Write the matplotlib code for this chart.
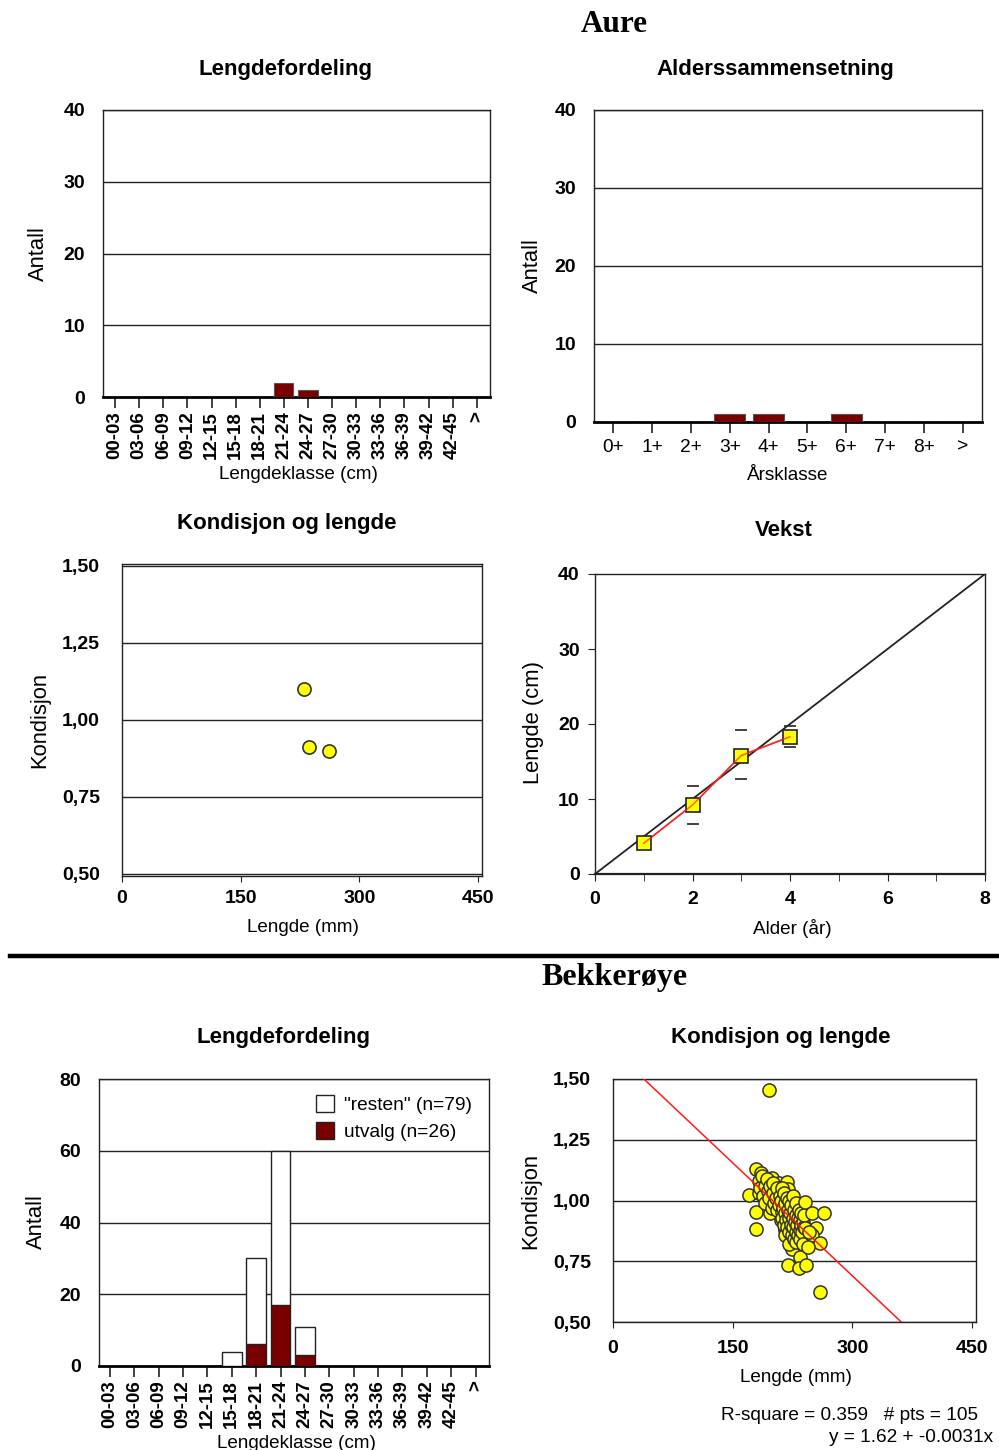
import matplotlib
matplotlib.use("Agg")
import matplotlib.pyplot as plt
from matplotlib.patches import Patch
from matplotlib.lines import Line2D

plt.rcParams['font.family'] = ['Liberation Sans', 'DejaVu Sans']

# ---------------- data ----------------
length_classes = ['00-03', '03-06', '06-09', '09-12', '12-15', '15-18', '18-21',
                  '21-24', '24-27', '27-30', '30-33', '33-36', '36-39', '39-42',
                  '42-45', '>']
age_classes = ['0+', '1+', '2+', '3+', '4+', '5+', '6+', '7+', '8+', '>']

# Aure
aure_len_counts = [0, 0, 0, 0, 0, 0, 0, 2, 1, 0, 0, 0, 0, 0, 0, 0]
aure_age_counts = [0, 0, 0, 1, 1, 0, 1, 0, 0, 0]
aure_length_mm = [230, 236, 261]
aure_kond = [1.10, 0.913, 0.90]
vekst_age = [1, 2, 3, 4]
vekst_mean = [4.1, 9.2, 15.8, 18.3]
vekst_upper = [4.9, 11.8, 19.2, 19.7]
vekst_lower = [3.3, 6.7, 12.7, 17.0]
ref_growth_cm_per_year = 5.0

# Bekkerøye
bk_utvalg = [0, 0, 0, 0, 0, 0, 6, 17, 3, 0, 0, 0, 0, 0, 0, 0]
bk_resten = [0, 0, 0, 0, 0, 4, 24, 43, 8, 0, 0, 0, 0, 0, 0, 0]
bk_len = [170, 179, 179, 179,
          186, 199, 187, 195, 208, 183, 191, 206, 197, 210, 195,
          183, 184, 187, 188, 190, 191, 193, 194, 196, 197, 199, 200, 201,
          202, 204, 205, 206, 208, 209,
          218, 219, 214, 228, 224, 212, 230, 216, 228, 220, 235, 224, 235,
          219, 233,
          211, 212, 212, 213, 214, 214, 215, 216, 216, 217, 218, 218, 219,
          220, 220, 221, 221, 222, 223, 223, 224, 225, 225, 226, 227, 227,
          228, 229, 229, 230, 230, 231, 232, 232, 233, 234, 234, 235, 236,
          236, 237, 238, 238, 239, 239,
          241, 249, 264, 241, 255, 249, 259, 245, 242, 259, 246]
bk_kond = [1.023, 1.128, 0.954, 0.883,
           1.112, 1.091, 1.071, 1.071, 1.071, 1.030, 1.023, 1.036, 0.947, 0.920, 1.455,
           1.08, 1.05, 1.10, 1.02, 1.06, 0.99, 1.09, 1.04, 1.01, 1.06, 0.97, 1.03, 1.07,
           0.99, 1.01, 0.96, 1.05, 0.98, 1.02,
           1.077, 1.046, 1.016, 0.988, 0.961, 0.954, 0.947, 0.879, 0.879, 0.844, 0.851,
           0.799, 0.769, 0.735, 0.721,
           1.00, 0.93, 1.05, 0.97, 0.90, 1.03, 0.95, 0.99, 0.86, 0.92, 1.01, 0.89, 0.96,
           0.93, 0.87, 1.00, 0.82, 0.95, 0.90, 0.98, 0.86, 0.93, 1.02, 0.89, 0.96, 0.84,
           0.91, 0.94, 0.87, 0.99, 0.83, 0.90, 0.93, 0.86, 0.96, 0.88, 0.92, 0.84, 0.90,
           0.95, 0.87, 0.91, 0.82, 0.89, 0.94,
           0.995, 0.947, 0.950, 0.886, 0.886, 0.858, 0.824, 0.810, 0.735, 0.625, 0.87]
reg_intercept = 1.62
reg_slope = -0.0031
r_square = 0.359

# ---------------- figure helpers ----------------
W, H = 999, 1450
fig = plt.figure(figsize=(W / 100, H / 100), dpi=100)

BAR = '#7a0000'
LINE = '#222222'
PT = '#ffff00'

TITLE_FS = 16
XLABEL_FS = 13.6
YLABEL_FS = 15.8
TICK_FS = 14
CLASS_FS = 13.5


def rect(x0, y0, x1, y1):
    return [x0 / W, 1 - y1 / H, (x1 - x0) / W, (y1 - y0) / H]


def ftext(x, y, s, **kw):
    kw.setdefault('ha', 'center')
    kw.setdefault('va', 'center')
    fig.text(x / W, 1 - y / H, s, **kw)


def style_frame(ax):
    for s in ax.spines.values():
        s.set_color(LINE)
        s.set_linewidth(1.0)


def bold_ticks(ax, axis='both'):
    labels = []
    if axis in ('x', 'both'):
        labels += ax.get_xticklabels()
    if axis in ('y', 'both'):
        labels += ax.get_yticklabels()
    for t in labels:
        t.set_fontweight('bold')


def hist_axes(r, xlim, ymax, ystep):
    ax = fig.add_axes(r)
    style_frame(ax)
    ax.spines['bottom'].set_linewidth(2.0)
    ax.spines['bottom'].set_color('black')
    ax.set_xlim(*xlim)
    ax.set_ylim(0, ymax)
    ax.set_yticks(range(0, ymax + 1, ystep))
    ax.grid(axis='y', color=LINE, lw=1.0)
    ax.set_axisbelow(True)
    ax.tick_params(axis='y', length=0, pad=13, labelsize=TICK_FS)
    ax.tick_params(axis='x', length=8, width=1.2, color=LINE, direction='out')
    return ax


# ---------------- section titles ----------------
ftext(614, 24, 'Aure', family=['Liberation Serif', 'DejaVu Serif'],
      fontsize=22.5, fontweight='bold')
ftext(614, 977, 'Bekkerøye', family=['Liberation Serif', 'DejaVu Serif'],
      fontsize=23, fontweight='bold')
fig.add_artist(Line2D([10 / W, 1.0], [1 - 956 / H, 1 - 956 / H], color='black', lw=3.2))

# ---------------- Aure: Lengdefordeling ----------------
ax1 = hist_axes(rect(103, 110, 490, 397), (-0.5, 15.55), 40, 10)
x16 = list(range(len(length_classes)))
ax1.bar(x16, aure_len_counts, width=0.8, color=BAR, edgecolor='#555555', lw=0.8, zorder=3)
ax1.set_xticks(x16)
ax1.set_xticklabels(length_classes, rotation=90, fontsize=CLASS_FS)
ax1.tick_params(axis='x', pad=2)
bold_ticks(ax1)
ftext(285, 69, 'Lengdefordeling', fontsize=TITLE_FS, fontweight='bold')
ftext(298, 474, 'Lengdeklasse (cm)', fontsize=XLABEL_FS)
ftext(38, 254, 'Antall', fontsize=YLABEL_FS, rotation=90)

# ---------------- Aure: Alderssammensetning ----------------
ax2 = hist_axes(rect(594, 110, 982, 422), (-0.5, 9.5), 40, 10)
x10 = list(range(len(age_classes)))
ax2.bar(x10, aure_age_counts, width=0.8, color=BAR, edgecolor='#555555', lw=0.8, zorder=3)
ax2.set_xticks(x10)
ax2.set_xticklabels(age_classes, fontsize=13.8)
ax2.tick_params(axis='x', pad=4)
bold_ticks(ax2, 'y')
ftext(775, 69, 'Alderssammensetning', fontsize=TITLE_FS, fontweight='bold')
ftext(788, 476, 'Årsklasse', fontsize=XLABEL_FS)
ftext(532, 266, 'Antall', fontsize=YLABEL_FS, rotation=90)


# ---------------- condition scatter helper ----------------
def kond_axes(r, ylim, xpad):
    ax = fig.add_axes(r)
    style_frame(ax)
    ax.set_xlim(0, 455)
    ax.set_ylim(*ylim)
    ax.set_xticks([0, 150, 300, 450])
    ax.set_yticks([0.5, 0.75, 1.0, 1.25, 1.5])
    ax.set_yticklabels(['0,50', '0,75', '1,00', '1,25', '1,50'])
    ax.grid(axis='y', color=LINE, lw=1.0)
    ax.set_axisbelow(True)
    ax.tick_params(axis='y', length=0, pad=16, labelsize=TICK_FS)
    ax.tick_params(axis='x', length=4, color=LINE, pad=xpad, labelsize=TICK_FS)
    bold_ticks(ax)
    return ax


# ---------------- Aure: Kondisjon og lengde ----------------
ax3 = kond_axes(rect(122, 564, 482, 876), (0.493, 1.506), 6)
ax3.scatter(aure_length_mm, aure_kond, s=90, c=PT, edgecolors='#333333', linewidths=1.2, zorder=4)
ftext(287, 523, 'Kondisjon og lengde', fontsize=TITLE_FS, fontweight='bold')
ftext(303, 928, 'Lengde (mm)', fontsize=XLABEL_FS)
ftext(40, 720, 'Kondisjon', fontsize=YLABEL_FS, rotation=90)

# ---------------- Aure: Vekst ----------------
ax4 = fig.add_axes(rect(595, 574, 985, 874))
style_frame(ax4)
ax4.spines['bottom'].set_linewidth(1.6)
ax4.set_xlim(0, 8)
ax4.set_ylim(0, 40)
ax4.set_xticks([0, 2, 4, 6, 8])
ax4.set_xticks([1, 3, 5, 7], minor=True)
ax4.set_yticks([0, 10, 20, 30, 40])
ax4.tick_params(axis='both', which='both', length=5, color=LINE, direction='out', labelsize=TICK_FS)
ax4.tick_params(axis='x', pad=7)
ax4.tick_params(axis='y', pad=6)
bold_ticks(ax4)
xr = ax4.get_xlim()
ax4.plot(xr, [v * ref_growth_cm_per_year for v in xr], color='#222222', lw=1.3, zorder=2)
ax4.plot(vekst_age, vekst_mean, color='#ff2020', lw=1.1, zorder=3)
ax4.plot(vekst_age, vekst_upper, ls='none', marker='_', ms=9, mew=1.3, color='#333333', zorder=3)
ax4.plot(vekst_age, vekst_lower, ls='none', marker='_', ms=9, mew=1.3, color='#333333', zorder=3)
ax4.plot(vekst_age, vekst_mean, ls='none', marker='s', ms=9.5, mfc=PT, mec='#222222', mew=1.2, zorder=4)
ax4.plot(vekst_age, vekst_mean, color='#ff2020', lw=1.1, zorder=5, alpha=0.7)
ftext(784, 531, 'Vekst', fontsize=TITLE_FS, fontweight='bold')
ftext(792, 928, 'Alder (år)', fontsize=XLABEL_FS)
ftext(533, 723, 'Lengde (cm)', fontsize=YLABEL_FS, rotation=90)

# ---------------- Bekkerøye: Lengdefordeling ----------------
ax5 = hist_axes(rect(99, 1079, 489, 1366), (-0.45, 15.55), 80, 20)
ax5.bar(x16, bk_utvalg, width=0.8, color=BAR, edgecolor='#222222', lw=1.0, zorder=3)
ax5.bar(x16, bk_resten, width=0.8, bottom=bk_utvalg, color='white', edgecolor='#222222',
        lw=1.0, zorder=3)
ax5.set_xticks(x16)
ax5.set_xticklabels(length_classes, rotation=90, fontsize=CLASS_FS)
ax5.tick_params(axis='x', pad=2)
bold_ticks(ax5)
n_rest = sum(bk_resten)
n_utv = sum(bk_utvalg)
leg = ax5.legend(handles=[Patch(facecolor='white', edgecolor='#222222', lw=1.0),
                          Patch(facecolor=BAR, edgecolor='#222222', lw=1.0)],
                 labels=[f'"resten" (n={n_rest})', f'utvalg (n={n_utv})'],
                 loc='upper left', bbox_to_anchor=((312 - 99) / 390, 1 - (1091 - 1079) / 287),
                 frameon=False, fontsize=13.8, handlelength=0.95, handleheight=1.0,
                 handletextpad=0.5, labelspacing=0.42, borderpad=0.2, borderaxespad=0)
ftext(283, 1037, 'Lengdefordeling', fontsize=TITLE_FS, fontweight='bold')
ftext(296, 1443, 'Lengdeklasse (cm)', fontsize=XLABEL_FS)
ftext(36, 1222, 'Antall', fontsize=YLABEL_FS, rotation=90)

# ---------------- Bekkerøye: Kondisjon og lengde ----------------
ax6 = kond_axes(rect(613, 1079, 976, 1322), (0.5, 1.5), 9)
ax6.scatter(bk_len, bk_kond, s=90, c=PT, edgecolors='#333333', linewidths=1.1, zorder=4)
xr6 = ax6.get_xlim()
ax6.plot(xr6, [reg_intercept + reg_slope * v for v in xr6], color='#ff1a1a', lw=1.1, zorder=5)
ftext(781, 1037, 'Kondisjon og lengde', fontsize=TITLE_FS, fontweight='bold')
ftext(796, 1377, 'Lengde (mm)', fontsize=XLABEL_FS)
ftext(531, 1201, 'Kondisjon', fontsize=YLABEL_FS, rotation=90)
ftext(978, 1416, f'R-square = {r_square:.3f}   # pts = {len(bk_len)}', fontsize=13.7, ha='right')
ftext(993, 1438, f'y = {reg_intercept:.2f} + {reg_slope:.4f}x', fontsize=13.7, ha='right')

fig.savefig('out.png', dpi=100, facecolor='white')
